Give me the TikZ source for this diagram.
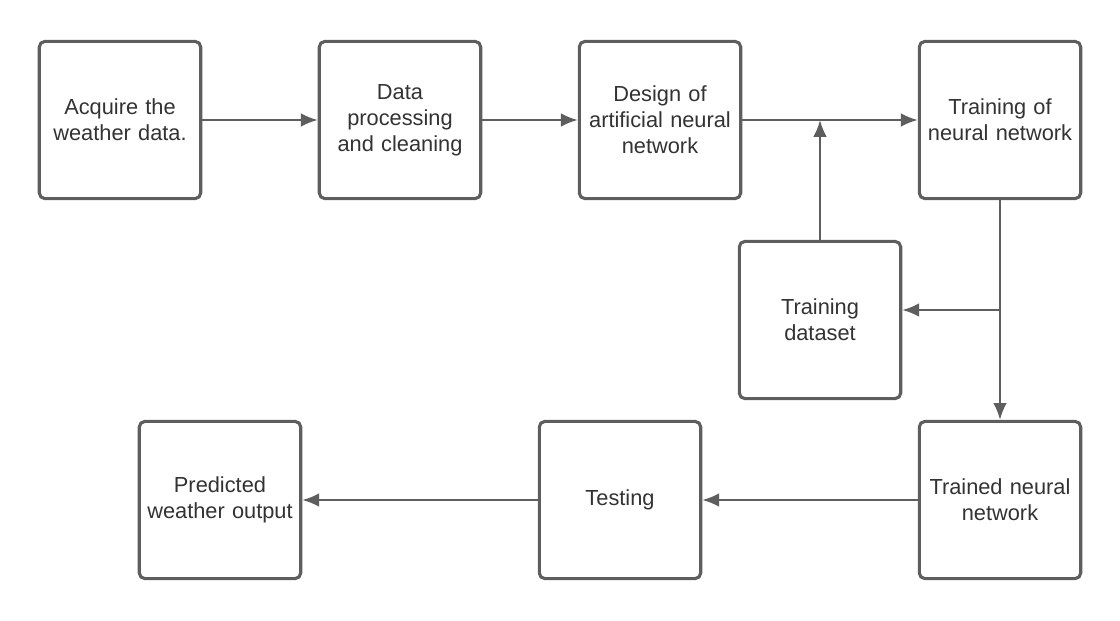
\documentclass[tikz,border=0pt]{standalone}
\usepackage{fontspec}
\setmainfont{Liberation Sans}
\usetikzlibrary{positioning,arrows.meta}

\definecolor{linegrey}{HTML}{5E5E5E}
\definecolor{textgrey}{HTML}{333333}

\tikzset{
    box/.style={draw=linegrey, line width=2.2pt, rounded corners=4pt, fill=white,
        minimum width=3.93cm, minimum height=3.93cm, text width=3.8cm, align=center,
        text=textgrey, font=\fontsize{15.5}{18.6}\selectfont},
    link/.style={draw=linegrey, line width=1.5pt, -{Latex[length=0.42cm,width=0.34cm]}},
}

\begin{document}
\begin{tikzpicture}[x=0.025cm, y=-0.025cm]
\useasboundingbox (0,0) rectangle (1120,620);

\node[box] (acquire) at (120,120) {Acquire the\\weather data.};
\node[box] (clean) at (400,120) {Data\\processing\\and cleaning};
\node[box] (design) at (660,120) {Design of\\artificial neural\\network};
\node[box] (train) at (1000,120) {Training of\\neural network};
\node[box] (dataset) at (820,320) {Training\\dataset};
\node[box] (trained) at (1000,500) {Trained neural\\network};
\node[box] (testing) at (620,500) {Testing};
\node[box] (output) at (220,500) {Predicted\\weather output};

\coordinate (junc) at (1000,310);

\draw[link] (acquire) -- (clean);
\draw[link] (clean) -- (design);
\draw[link] (design) -- (train);
\draw[link] (dataset.north) -- (dataset.north |- design.east);
\draw[link] (train.south) -- (trained.north);
\draw[link] (junc) -- (dataset.east |- junc);
\draw[link] (trained) -- (testing);
\draw[link] (testing) -- (output);
\end{tikzpicture}
\end{document}
